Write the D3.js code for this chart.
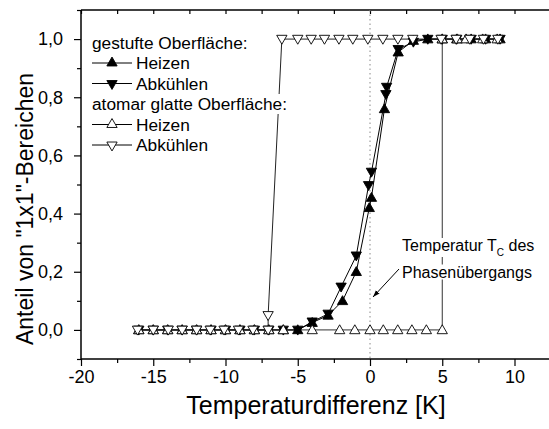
<!DOCTYPE html>
<html>
<head>
<meta charset="utf-8">
<script src="https://cdn.jsdelivr.net/npm/d3@7"></script>
<style>
  body { margin: 0; background: #fff; }
  svg { display: block; font-family: "Liberation Sans", Arial, sans-serif; }
</style>
</head>
<body>
<div id="vis-holder"></div>
<script>
// Data
// gestufte Oberfläche, Heizen (filled up triangle)
const stepHeatX = [-16, -15, -14, -13, -12, -11, -10, -9, -8, -7, -6, -5, -4, -2.9, -1.9, -0.95, -0.05, 0.1, 1.0, 1.95, 3.0, 4.0, 5, 6, 7, 8, 9];
const stepHeatY = [0, 0, 0, 0, 0, 0, 0, 0, 0, 0, 0, 0, 0.025, 0.05, 0.10, 0.20, 0.42, 0.455, 0.76, 0.955, 0.995, 1, 1, 1, 1, 1, 1];
// gestufte Oberfläche, Abkühlen (filled down triangle)
const stepCoolX = [9, 8, 7, 6, 5, 4, 3.0, 1.95, 1.15, 1.1, 0.1, -0.1, -0.95, -2.0, -2.9, -4, -5, -6, -7, -8, -9, -10, -11, -12, -13, -14, -15, -16];
const stepCoolY = [1, 1, 1, 1, 1, 1, 0.99, 0.965, 0.835, 0.81, 0.543, 0.497, 0.255, 0.148, 0.055, 0.028, 0, 0, 0, 0, 0, 0, 0, 0, 0, 0, 0, 0];
// atomar glatte Oberfläche, Heizen (open up triangle)
const flatHeatX = [-16, -15, -14, -13, -12, -11, -10, -9, -8, -7, -6, -4, -2.1, -1.05, 0, 0.92, 1.92, 2.9, 3.9, 5.0, 5.0, 6.05, 6.65, 7.8, 8.8];
const flatHeatY = [0, 0, 0, 0, 0, 0, 0, 0, 0, 0, 0, 0, 0, 0, 0, 0, 0, 0, 0, 0, 1, 1, 1, 1, 1];
// atomar glatte Oberfläche, Abkühlen (open down triangle)
const flatCoolX = [8.85, 7.85, 6.9, 5.96, 4.92, 2.96, 1.93, 0.89, -0.15, -1.19, -2.15, -3.15, -4.07, -5.0, -6.1, -7.05, -7.05, -8.1, -9.1, -10.1, -11.06, -12, -13, -13.96, -15, -16.09];
const flatCoolY = [1, 1, 1, 1, 1, 1, 1, 1, 1, 1, 1, 1, 1, 1, 1, 0.05, 0, 0, 0, 0, 0, 0, 0, 0, 0, 0];

const xMajor = [-20, -15, -10, -5, 0, 5, 10];
const xMinor = [-17.5, -12.5, -7.5, -2.5, 2.5, 7.5, 12.5];
const yMajor = [0, 0.2, 0.4, 0.6, 0.8, 1.0];
const yMinor = [-0.1, 0.1, 0.3, 0.5, 0.7, 0.9, 1.1];

const xTitle = "Temperaturdifferenz [K]";
const yTitle = "Anteil von \"1x1\"-Bereichen";

const width = 549;
const height = 429;
const margin = { top: 10, left: 81, bottom: 359 };

const svg = d3.select("#vis-holder")
  .append("svg")
  .attr("width", width)
  .attr("height", height);

// scales
const x = d3.scaleLinear()
  .domain([-20, 10])
  .range([margin.left, 514.5]);
const y = d3.scaleLinear()
  .domain([-0.1, 1.1])
  .range([margin.bottom, margin.top]);

const fmt = (d) => d.toFixed(1).replace(".", ",");

// bottom axis
svg.append("g")
  .attr("transform", `translate(0,${margin.bottom})`)
  .call(d3.axisBottom(x).tickValues(xMinor).tickSize(4).tickFormat(""))
  .call((g) => g.select(".domain").remove());
svg.append("g")
  .attr("transform", `translate(0,${margin.bottom})`)
  .call(d3.axisBottom(x).tickValues(xMajor).tickSize(7).tickPadding(4).tickFormat((d) => String(d)))
  .attr("font-size", "18px")
  .attr("font-family", "Liberation Sans, Arial, sans-serif")
  .call((g) => g.select(".domain").remove());

// top axis (ticks inward)
svg.append("g")
  .attr("transform", `translate(0,${margin.top})`)
  .call(d3.axisBottom(x).tickValues(xMajor.concat(xMinor)).tickSize(4).tickFormat(""))
  .call((g) => g.select(".domain").remove());

// left axis
svg.append("g")
  .attr("transform", `translate(${margin.left},0)`)
  .call(d3.axisLeft(y).tickValues(yMinor).tickSize(4).tickFormat(""))
  .call((g) => g.select(".domain").remove());
svg.append("g")
  .attr("transform", `translate(${margin.left},0)`)
  .call(d3.axisLeft(y).tickValues(yMajor).tickSize(7).tickPadding(11).tickFormat(fmt))
  .attr("font-size", "18px")
  .attr("font-family", "Liberation Sans, Arial, sans-serif")
  .call((g) => g.select(".domain").remove());

svg.selectAll(".tick line").attr("stroke", "#000").attr("stroke-width", 1.2);

// frame lines
svg.append("line")
  .attr("x1", margin.left).attr("x2", width)
  .attr("y1", margin.bottom).attr("y2", margin.bottom)
  .attr("stroke", "#000").attr("stroke-width", 1.5);
svg.append("line")
  .attr("x1", margin.left).attr("x2", width)
  .attr("y1", margin.top).attr("y2", margin.top)
  .attr("stroke", "#000").attr("stroke-width", 1.5);
svg.append("line")
  .attr("x1", margin.left).attr("x2", margin.left)
  .attr("y1", margin.top).attr("y2", margin.bottom)
  .attr("stroke", "#000").attr("stroke-width", 1.5);

// dotted line at 0
svg.append("line")
  .attr("x1", x(0)).attr("x2", x(0))
  .attr("y1", margin.top).attr("y2", margin.bottom)
  .attr("stroke", "#888")
  .attr("stroke-width", 1)
  .attr("stroke-dasharray", "1.5,3");

// axis titles
svg.append("text")
  .attr("x", 316)
  .attr("y", 414)
  .attr("text-anchor", "middle")
  .attr("font-size", "25px")
  .text(xTitle);
svg.append("text")
  .attr("transform", "translate(33,209) rotate(-90)")
  .attr("text-anchor", "middle")
  .attr("font-size", "23px")
  .text(yTitle);

// series
const series = [
  { xs: stepHeatX, ys: stepHeatY, fill: "#000", rot: 0, line: "#000" },
  { xs: stepCoolX, ys: stepCoolY, fill: "#000", rot: 180, line: "#000" },
  { xs: flatHeatX, ys: flatHeatY, fill: "#fff", rot: 0, line: "#333" },
  { xs: flatCoolX, ys: flatCoolY, fill: "#fff", rot: 180, line: "#222" }
];

const tri = d3.symbol().type(d3.symbolTriangle).size(46);
const line = d3.line()
  .x((d) => x(d[0]))
  .y((d) => y(d[1]));

series.forEach((s) => {
  const pts = s.xs.map((v, i) => [v, s.ys[i]]);
  svg.append("path")
    .datum(pts)
    .attr("d", line)
    .attr("fill", "none")
    .attr("stroke", s.line)
    .attr("stroke-width", 1);
});

series.forEach((s) => {
  const pts = s.xs.map((v, i) => [v, s.ys[i]]);
  svg.append("g")
    .selectAll("path")
    .data(pts)
    .enter()
    .append("path")
    .attr("d", tri)
    .attr("transform", (d) => `translate(${x(d[0])},${y(d[1]) + (s.rot ? -0.8 : 0.8)}) rotate(${s.rot})`)
    .attr("fill", s.fill)
    .attr("stroke", "#000")
    .attr("stroke-width", 0.9);
});

// legend
const legendRows = [
  { label: "gestufte Oberfläche:", y: 48.5 },
  { label: "Heizen", y: 69, sym: 0, fill: "#000" },
  { label: "Abkühlen", y: 89.5, sym: 180, fill: "#000" },
  { label: "atomar glatte Oberfläche:", y: 110, },
  { label: "Heizen", y: 130.5, sym: 0, fill: "#fff" },
  { label: "Abkühlen", y: 151, sym: 180, fill: "#fff" }
];

const legend = svg.append("g").attr("font-size", "17.3px");
legendRows.forEach((r) => {
  const tx = r.sym === undefined ? 92 : 136;
  const t = legend.append("text")
    .attr("x", tx)
    .attr("y", r.y)
    .text(r.label);
  const bb = t.node().getBBox();
  legend.insert("rect", "text")
    .attr("x", bb.x - 1).attr("y", bb.y)
    .attr("width", bb.width + 2).attr("height", bb.height)
    .attr("fill", "#fff");
  if (r.sym !== undefined) {
    const cy = r.y - 6;
    legend.append("line")
      .attr("x1", 92).attr("x2", 132)
      .attr("y1", cy).attr("y2", cy)
      .attr("stroke", "#000").attr("stroke-width", 1);
    legend.append("path")
      .attr("d", tri)
      .attr("transform", `translate(112,${cy}) rotate(${r.sym})`)
      .attr("fill", r.fill)
      .attr("stroke", "#000")
      .attr("stroke-width", 0.9);
  }
});

// annotation
const note = svg.append("g").attr("font-size", "16px");
const n1 = note.append("text").attr("x", 402).attr("y", 251);
n1.append("tspan").text("Temperatur T");
n1.append("tspan").attr("font-size", "10px").attr("dy", 5).text("C");
n1.append("tspan").attr("dy", -5).text(" des");
const n2 = note.append("text").attr("x", 402).attr("y", 277.5).text("Phasenübergangs");
[n1, n2].forEach((t) => {
  const bb = t.node().getBBox();
  note.insert("rect", "text")
    .attr("x", bb.x - 1).attr("y", bb.y + 1)
    .attr("width", bb.width + 2).attr("height", bb.height - 2)
    .attr("fill", "#fff");
});

svg.append("defs").append("marker")
  .attr("id", "arrow")
  .attr("viewBox", "0 0 10 10")
  .attr("refX", 10).attr("refY", 5)
  .attr("markerWidth", 7).attr("markerHeight", 7)
  .attr("orient", "auto")
  .append("path")
  .attr("d", "M0,1.5 L10,5 L0,8.5 Z")
  .attr("fill", "#000");

svg.append("line")
  .attr("x1", 399).attr("y1", 269)
  .attr("x2", 373).attr("y2", 297)
  .attr("stroke", "#000")
  .attr("stroke-width", 1)
  .attr("marker-end", "url(#arrow)");
</script>
</body>
</html>
